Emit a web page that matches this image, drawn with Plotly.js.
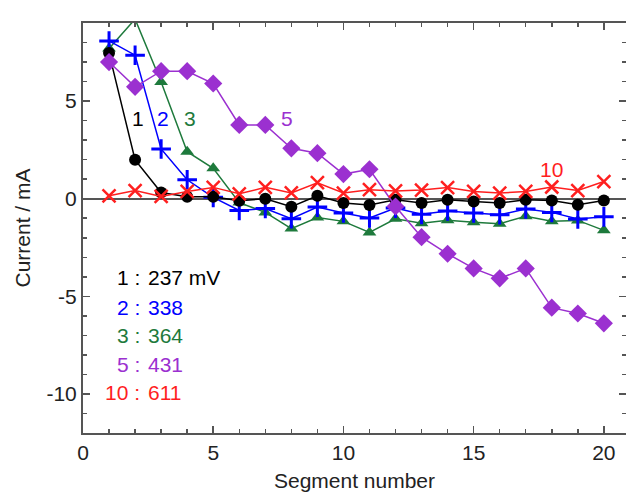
<!DOCTYPE html>
<html>
<head>
<meta charset="utf-8">
<script src="https://cdn.plot.ly/plotly-3.0.1.min.js"></script>
<style>html,body{margin:0;padding:0;background:#fff;}#chart{width:626px;height:494px;}</style>
</head>
<body>
<div id="chart"></div>
<script>
const segments = [1,2,3,4,5,6,7,8,9,10,11,12,13,14,15,16,17,18,19,20];
const s1_237mV = [7.46, 1.99, 0.32, 0.1, 0.1, -0.1, 0.0, -0.41, 0.15, -0.22, -0.32, -0.05, -0.22, -0.05, -0.14, -0.22, -0.05, -0.09, -0.31, -0.09];
const s2_338mV = [8.08, 7.35, 2.55, 0.97, 0.07, -0.6, -0.5, -1.02, -0.43, -0.73, -0.99, -0.48, -0.8, -0.63, -0.73, -0.82, -0.53, -0.7, -1.04, -0.93];
const s3_364mV = [7.69, 9.2, 5.98, 2.41, 1.56, -0.2, -0.7, -1.53, -0.96, -1.16, -1.73, -1.03, -1.26, -1.1, -1.21, -1.28, -0.9, -1.16, -1.11, -1.62];
const s5_431mV = [7.0, 5.73, 6.53, 6.53, 5.9, 3.78, 3.78, 2.58, 2.33, 1.26, 1.51, -0.4, -1.97, -2.82, -3.57, -4.08, -3.57, -5.58, -5.88, -6.38];
const s10_611mV = [0.15, 0.42, 0.12, 0.37, 0.58, 0.25, 0.58, 0.3, 0.82, 0.29, 0.46, 0.4, 0.44, 0.57, 0.37, 0.29, 0.37, 0.6, 0.42, 0.88];

const seriesNums = ['1','2','3','5','10'];
const seriesVolts = ['237 mV','338','364','431','611'];
const xTickVals = [0, 5, 10, 15, 20];
const xTickText = ['0', '5', '10', '15', '20'];
const yTickVals = [-10, -5, 0, 5];
const yTickText = ['-10', '-5', '0', '5'];

const colors = {k:'#000000', b:'#0000ff', g:'#1e7a3c', p:'#9b30d0', r:'#ff1f1f'};
const FONT = 'Liberation Sans, Arial, sans-serif';
const FS = 21;

const traces = [
  {x: segments, y: s3_364mV, mode:'lines+markers', line:{color:colors.g, width:1.5},
   marker:{symbol:'triangle-up', size:12, color:colors.g}, cliponaxis:false},
  {x: segments, y: s2_338mV, mode:'lines+markers', line:{color:colors.b, width:1.5},
   marker:{symbol:'cross-thin', size:14, color:colors.b, line:{color:colors.b, width:3}}, cliponaxis:false},
  {x: segments, y: s1_237mV, mode:'lines+markers', line:{color:colors.k, width:1.5},
   marker:{symbol:'circle', size:12, color:colors.k}, cliponaxis:false},
  {x: segments, y: s5_431mV, mode:'lines+markers', line:{color:colors.p, width:1.5},
   marker:{symbol:'diamond', size:14, color:colors.p}, cliponaxis:false},
  {x: segments, y: s10_611mV, mode:'lines+markers', line:{color:colors.r, width:1.5},
   marker:{symbol:'x-thin', size:13, color:colors.r, line:{color:colors.r, width:2.5}}, cliponaxis:false}
];

const legColors = [colors.k, colors.b, colors.g, colors.p, colors.r];
const legY = [-4.03, -5.56, -6.99, -8.47, -9.95];
const annotations = [];
for (let i = 0; i < seriesNums.length; i++) {
  annotations.push({x:2.27, y:legY[i], xref:'x', yref:'y', text:seriesNums[i]+' :', showarrow:false,
    xanchor:'right', yanchor:'middle', font:{family:FONT, size:FS, color:legColors[i]}});
  annotations.push({x:2.4, y:legY[i], xref:'x', yref:'y', text:seriesVolts[i], showarrow:false,
    xanchor:'left', yanchor:'middle', font:{family:FONT, size:FS, color:legColors[i]}});
}
const tags = [
  {t:'1', x:2.11, y:4.13, c:colors.k},
  {t:'2', x:3.07, y:4.13, c:colors.b},
  {t:'3', x:4.1, y:4.13, c:colors.g},
  {t:'5', x:7.85, y:4.13, c:colors.p},
  {t:'10', x:18.0, y:1.52, c:colors.r}
];
tags.forEach(a => annotations.push({x:a.x, y:a.y, xref:'x', yref:'y', text:a.t, showarrow:false,
  xanchor:'center', yanchor:'middle', font:{family:FONT, size:FS, color:a.c}}));

const axisCommon = {
  showline:true, linecolor:'#555555', linewidth:2, mirror:'ticks',
  ticks:'inside', ticklen:7, tickwidth:1.5, tickcolor:'#555555',
  showgrid:false, tickfont:{family:FONT, size:FS, color:'#222'},
  minor:{dtick:1, ticks:'inside', ticklen:4, tickwidth:1.5, tickcolor:'#555555', showgrid:false}
};

const layout = {
  width:626, height:494,
  margin:{l:83, r:0, t:23, b:61},
  paper_bgcolor:'#ffffff', plot_bgcolor:'#ffffff',
  showlegend:false,
  font:{family:FONT, color:'#222'},
  xaxis:Object.assign({}, axisCommon, {range:[0,20.85], tickmode:'array', tickvals:xTickVals, ticktext:xTickText, zeroline:false,
    title:{text:'Segment number', font:{family:FONT, size:FS, color:'#222'}, standoff:10}}),
  yaxis:Object.assign({}, axisCommon, {range:[-12,9], tickmode:'array', tickvals:yTickVals, ticktext:yTickText,
    zeroline:true, zerolinecolor:'#555555', zerolinewidth:2,
    title:{text:'Current / mA', font:{family:FONT, size:FS, color:'#222'}, standoff:10}}),
  annotations: annotations
};

Plotly.newPlot('chart', traces, layout, {staticPlot:true, displayModeBar:false});
</script>
</body>
</html>
